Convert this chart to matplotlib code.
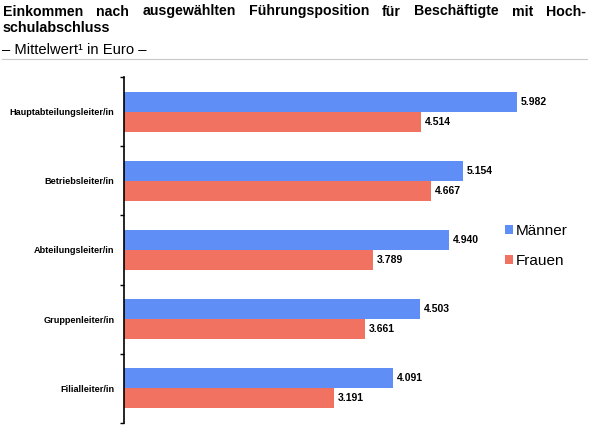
import matplotlib as mpl
mpl.use('Agg')
import numpy as np
import matplotlib.pyplot as plt

mpl.rcParams.update({
    'font.family': ['Liberation Sans', 'DejaVu Sans'],
})

positions = ['Hauptabteilungsleiter/in', 'Betriebsleiter/in', 'Abteilungsleiter/in',
             'Gruppenleiter/in', 'Filialleiter/in']
maenner = [5982, 5154, 4940, 4503, 4091]
frauen = [4514, 4667, 3789, 3661, 3191]
series_names = ['Männer', 'Frauen']

title_line1 = 'Einkommen nach ausgewählten Führungsposition für Beschäftigte mit Hoch-'
title_line2 = 'schulabschluss'
subtitle = '– Mittelwert¹ in Euro –'

blue = '#5F8FF6'
red = '#F27262'

W, H = 600, 428
fig = plt.figure(figsize=(W / 100, H / 100), dpi=100)
ax = fig.add_axes([124 / W, 5 / H, 460 / W, 346 / H])

y = np.arange(len(positions))
h = 0.29
b1 = ax.barh(y - h / 2, maenner, height=h, color=blue, label=series_names[0])
b2 = ax.barh(y + h / 2, frauen, height=h, color=red, label=series_names[1])

def fmt(v):
    return f'{v:,}'.replace(',', '.')

for bars, vals in ((b1, maenner), (b2, frauen)):
    for rect, v in zip(bars, vals):
        ax.text(v + 60, rect.get_y() + rect.get_height() / 2, fmt(v),
                va='center', ha='left', fontsize=7.5, fontweight='bold')

ax.set_xlim(0, 7000)
ax.set_ylim(len(positions) - 0.5, -0.5)
ax.set_yticks(np.arange(-0.5, len(positions)), labels=[])
ax.set_yticks(y, labels=positions, minor=True)
ax.tick_params(axis='y', which='major', length=3, width=1, direction='out')
ax.tick_params(axis='y', which='minor', length=0, pad=7, labelsize=6.6)
for lab in ax.get_yticklabels(minor=True):
    lab.set_fontweight('bold')
ax.set_xticks([])
for s in ('top', 'right', 'bottom'):
    ax.spines[s].set_visible(False)
ax.spines['left'].set_linewidth(1.2)

ax.legend(loc='upper left', bbox_to_anchor=(505 / W, 1 - 224 / H),
          bbox_transform=fig.transFigure, frameon=False, fontsize=11,
          handlelength=0.55, handleheight=0.55, handletextpad=0.15,
          labelspacing=1.05, borderpad=0, borderaxespad=0)

# justified first title line
renderer = fig.canvas.get_renderer()
words = title_line1.split(' ')
texts = [fig.text(0, 1 - 15.5 / H, w, fontsize=10.2, fontweight='bold', va='baseline')
         for w in words]
widths = [t.get_window_extent(renderer).width for t in texts]
x0, x1 = 3, 586
gap = (x1 - x0 - sum(widths)) / (len(words) - 1)
x = x0
for t, wd in zip(texts, widths):
    t.set_x(x / W)
    x += wd + gap

fig.text(3 / W, 1 - 32.5 / H, title_line2, fontsize=10.4, fontweight='bold', va='baseline')
fig.text(2.5 / W, 1 - 53.5 / H, subtitle, fontsize=10.6, va='baseline')
fig.add_artist(plt.Line2D([2 / W, 587 / W], [1 - 58.5 / H] * 2, color='#c8c8c8', lw=0.8))

fig.savefig('out.png', dpi=100)
